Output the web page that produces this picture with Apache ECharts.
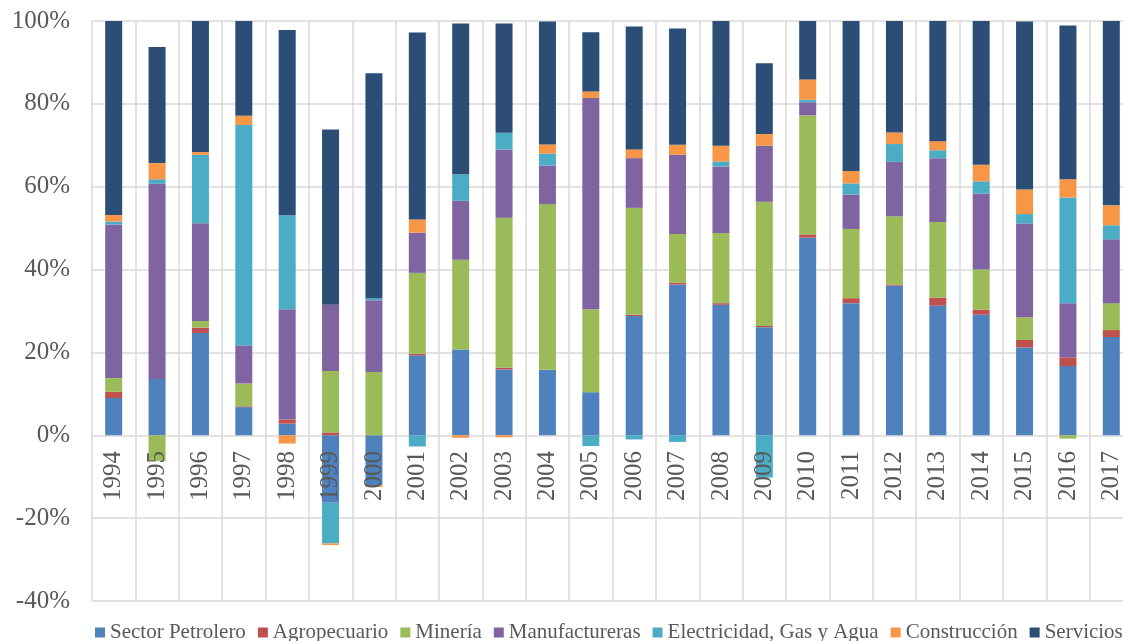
<!DOCTYPE html>
<html lang="es">
  <head>
    <meta charset="UTF-8" />
    <title>Contribución por sector</title>
    <script src="https://cdn.jsdelivr.net/npm/echarts@6/dist/echarts.min.js"></script>
    <style>
      html, body { margin: 0; padding: 0; background: #fff; }
      #chart { width: 1123px; height: 641px; }
    </style>
  </head>
  <body>
    <div id="chart"></div>
    <script>
      // años
      var years = ["1994", "1995", "1996", "1997", "1998", "1999", "2000", "2001", "2002", "2003", "2004", "2005",
        "2006", "2007", "2008", "2009", "2010", "2011", "2012", "2013", "2014", "2015", "2016", "2017"];

      // valores en %
      var petrolero = [9.0, 13.6, 24.7, 6.8, 2.8, -16.3, -12.1, 19.3, 20.7, 15.9, 15.8, 10.4,
        28.8, 36.4, 31.5, 26.1, 47.7, 31.9, 36.1, 31.3, 29.1, 21.2, 16.7, 23.7];
      var agropecuario = [1.5, 0, 1.3, 0.2, 1.0, 0.7, 0, 0.4, 0, 0.4, 0, 0,
        0.3, 0.4, 0.4, 0.3, 0.8, 1.2, 0.3, 1.9, 1.2, 1.8, 2.1, 1.7];
      var mineria = [3.3, -6.2, 1.6, 5.5, 0, 14.8, 15.3, 19.5, 21.7, 36.2, 40.0, 20.0,
        25.8, 11.8, 16.9, 30.0, 28.7, 16.7, 16.5, 18.3, 9.7, 5.5, -0.8, 6.5];
      var manufactureras = [37.1, 47.1, 23.6, 9.2, 26.6, 16.0, 17.3, 9.7, 14.2, 16.5, 9.3, 51.0,
        12.0, 19.1, 16.1, 13.5, 3.2, 8.3, 13.1, 15.4, 18.3, 22.6, 13.1, 15.4];
      var electricidad = [0.7, 1.1, 16.5, 53.2, 22.7, -9.8, 0.5, -2.7, 6.4, 4.0, 2.9, -2.6,
        -1.0, -1.6, 1.2, -10.2, 0.6, 2.7, 4.3, 1.9, 3.0, 2.3, 25.5, 3.4];
      var construccion = [1.6, 3.9, 0.7, 2.2, -2.0, -0.4, -0.4, 3.2, -0.6, -0.5, 2.2, 1.6,
        2.1, 2.4, 3.8, 2.8, 4.9, 3.0, 2.8, 2.2, 4.0, 5.9, 4.4, 4.8];
      var servicios = [46.8, 28.0, 31.6, 22.9, 44.7, 42.3, 54.3, 45.1, 36.4, 26.4, 29.7, 14.3,
        29.7, 28.1, 30.1, 17.1, 14.1, 36.2, 26.9, 29.0, 34.7, 40.6, 37.1, 44.5];

      var seriesNames = ["Sector Petrolero", "Agropecuario", "Minería", "Manufactureras",
        "Electricidad, Gas y Agua", "Construcción", "Servicios"];
      var seriesData = [petrolero, agropecuario, mineria, manufactureras, electricidad, construccion, servicios];
      var colors = ["#4F81BD", "#C0504D", "#9BBB59", "#8064A2", "#4BACC6", "#F79646", "#2C4D75"];

      var font = "'Liberation Serif', 'Times New Roman', serif";
      var gridColor = "#D9D9D9";

      // eje Y de -40 a 100; la línea del 0% queda a 40/140 de la altura del área
      var gridTop = 21, gridBottom = 40, chartH = 641;
      var plotH = chartH - gridTop - gridBottom;
      var zeroOffset = -Math.round(plotH * 40 / 140);

      var chart = echarts.init(document.getElementById("chart"));

      var series = seriesNames.map(function (name, i) {
        return {
          name: name,
          type: "bar",
          stack: "total",
          barWidth: 17,
          xAxisIndex: 0,
          itemStyle: { color: colors[i] },
          data: seriesData[i],
        };
      });

      var option = {
        animation: false,
        backgroundColor: "#fff",
        color: colors,
        grid: {
          left: 92,
          top: gridTop,
          right: -10,
          bottom: gridBottom,
          containLabel: false,
          outerBoundsMode: "none",
        },
        legend: {
          left: 95,
          top: 622,
          padding: 0,
          width: 1300,
          icon: "rect",
          itemWidth: 10,
          itemHeight: 10,
          itemGap: 12,
          textStyle: { fontFamily: font, fontSize: 21, color: "#595959" },
          data: seriesNames,
        },
        xAxis: [
          {
            // etiquetas de años junto a la línea del 0%
            type: "category",
            data: years,
            position: "bottom",
            offset: zeroOffset,
            z: 5,
            axisLine: { show: false, onZero: false },
            axisTick: { show: false },
            splitLine: { show: false },
            axisLabel: {
              rotate: 90,
              margin: 16,
              fontFamily: font,
              fontSize: 25,
              color: "#595959",
              interval: 0,
            },
          },
          {
            // solo para las líneas verticales de la cuadrícula
            type: "category",
            data: years,
            position: "top",
            z: 0,
            axisLine: { show: false, onZero: false },
            axisTick: { show: false },
            axisLabel: { show: false },
            splitLine: { show: true, lineStyle: { color: gridColor, width: 1.5 } },
          },
        ],
        yAxis: {
          type: "value",
          min: -40,
          max: 100,
          interval: 20,
          axisLine: { show: false },
          axisTick: { show: false },
          splitLine: { show: true, lineStyle: { color: gridColor, width: 1.5 } },
          axisLabel: {
            formatter: "{value}%",
            margin: 22,
            fontFamily: font,
            fontSize: 25,
            color: "#595959",
          },
        },
        series: series,
      };

      chart.setOption(option);
    </script>
  </body>
</html>
